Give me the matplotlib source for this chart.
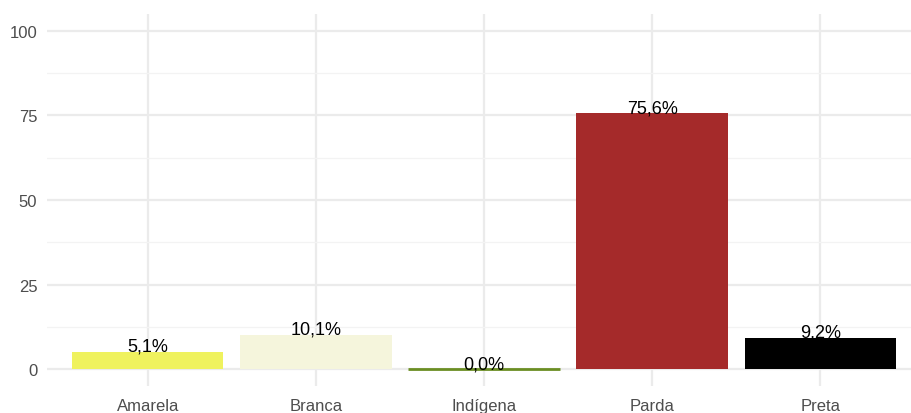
import matplotlib.pyplot as plt

plt.rcParams["font.family"] = ["Liberation Sans", "DejaVu Sans"]

# dados
categorias = ["Amarela", "Branca", "Indígena", "Parda", "Preta"]
valores = [5.1, 10.1, 0.0, 75.6, 9.2]
rotulos = ["5,1%", "10,1%", "0,0%", "75,6%", "9,2%"]
cores = ["#EFF25E", "#F5F5DC", "#6B8E23", "#A52A2A", "#000000"]
yticks = [0, 25, 50, 75, 100]

fig = plt.figure(figsize=(9.11, 4.14), dpi=100)
# painel um pouco maior que a figura à direita (como no original)
ax = fig.add_axes([47 / 911, 27 / 414, 874 / 911, 372 / 414])

x = list(range(len(categorias)))
ax.bar(x, valores, width=0.9, color=cores, zorder=2)
# barra de valor zero aparece como linha
for i, v in enumerate(valores):
    if v == 0:
        ax.plot([i - 0.45, i + 0.45], [0, 0], color=cores[i], lw=2, zorder=3,
                solid_capstyle="butt")

for i, v in enumerate(valores):
    ax.text(i, v + 0.3, rotulos[i], ha="center", va="baseline", fontsize=13,
            color="black", zorder=4)

ax.set_xlim(-0.6, len(categorias) - 0.4)
ax.set_ylim(-5, 105)
ax.set_xticks(x)
ax.set_xticklabels(categorias)
ax.set_yticks(yticks)
ax.set_yticks([12.5, 37.5, 62.5, 87.5], minor=True)

ax.grid(axis="y", which="major", color="#EBEBEB", lw=1.6, zorder=0)
ax.grid(axis="y", which="minor", color="#F3F3F3", lw=0.9, zorder=0)
ax.grid(axis="x", which="major", color="#EBEBEB", lw=1.6, zorder=0)

for s in ax.spines.values():
    s.set_visible(False)
ax.tick_params(axis="both", which="both", length=0, labelsize=12,
               labelcolor="#4D4D4D")
ax.tick_params(axis="x", pad=9)
ax.tick_params(axis="y", pad=7)

fig.savefig("out.png", dpi=100)
